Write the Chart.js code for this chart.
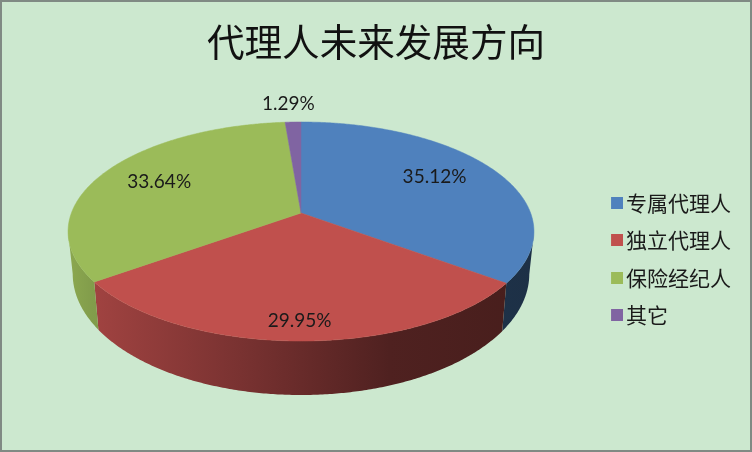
<!DOCTYPE html>
<html>
<head>
<meta charset="utf-8">
<style>html,body{margin:0;padding:0;background:#cce8cf}canvas{display:block}</style>
<script src="https://cdn.jsdelivr.net/npm/chart.js@4/dist/chart.umd.min.js"></script>
</head>
<body>
<canvas id="c" width="752" height="452"></canvas>
<script>
const categories = ['专属代理人', '独立代理人', '保险经纪人', '其它'];
const shares = [35.12, 29.95, 33.64, 1.29];
const colors = ['#4F81BD', '#C0504D', '#9BBB59', '#8064A2'];
const chartTitle = '代理人未来发展方向';

// perspective projection of the pie disc: top face and bottom rim
const K = 0.169;
const TOP = {cx: 301, cy: 213, a: 229.6, b: 106.4};
const BOT = {cx: 301, cy: 253.5, a: 225, b: 117.6};
function project(face, X, Y) {
  const w = 1 - K * Y;
  return [face.cx + face.a * X / w, face.cy + face.b * Y / w];
}
function unit(angle) { return [Math.cos(angle), Math.sin(angle)]; }

// wall brightness across the disc, from left to right
const SHADE = [[-1, .9], [-.9, .84], [-.26, .63], [0, .54], [.38, .41], [1, .37]];
function darken(hex, f) {
  const n = parseInt(hex.slice(1), 16);
  return 'rgb(' + [(n >> 16) & 255, (n >> 8) & 255, n & 255].map(v => Math.round(v * f)).join(',') + ')';
}
function wallGradient(ctx, hex) {
  const g = ctx.createLinearGradient(TOP.cx - 233, 0, TOP.cx + 233, 0);
  SHADE.forEach(([X, f]) => g.addColorStop((X + 1) / 2, darken(hex, f)));
  return g;
}

const pie3d = {
  id: 'pie3d',
  afterLayout(chart, args, opts) {
    chart.legend.left += opts.legendShift[0];
    chart.legend.right += opts.legendShift[0];
    chart.legend.top += opts.legendShift[1];
    chart.legend.bottom += opts.legendShift[1];
  },
  beforeDraw(chart) {
    const {ctx, width, height} = chart;
    ctx.save();
    ctx.fillStyle = '#cce8cf';
    ctx.fillRect(0, 0, width, height);
    ctx.strokeStyle = '#808a84';
    ctx.lineWidth = 2;
    ctx.strokeRect(1, 1, width - 2, height - 2);
    ctx.restore();
  },
  beforeDatasetDraw() { return false; },
  afterDatasetsDraw(chart, args, opts) {
    const {ctx} = chart;
    const arcs = chart.getDatasetMeta(0).data;
    const step = Math.PI / 360;
    ctx.save();
    // walls: one polygon per slice, over the part of the rim facing the viewer
    // (the rim turns away at the silhouette tangent, where sin(angle) = K)
    arcs.forEach((arc, i) => {
      const angles = [];
      for (let a = arc.startAngle; a < arc.endAngle; a += step) {
        if (Math.sin(a) >= K) angles.push(a);
      }
      if (Math.sin(arc.endAngle) >= K) angles.push(arc.endAngle);
      if (angles.length < 2) return;
      ctx.beginPath();
      angles.forEach(a => {
        const [x, y] = unit(a);
        ctx.lineTo(...project(TOP, x, y));
      });
      angles.slice().reverse().forEach(a => {
        const [x, y] = unit(a);
        ctx.lineTo(...project(BOT, x, y));
      });
      ctx.closePath();
      ctx.fillStyle = wallGradient(ctx, colors[i]);
      ctx.fill();
    });
    // top face
    arcs.forEach((arc, i) => {
      ctx.beginPath();
      ctx.moveTo(TOP.cx, TOP.cy);
      for (let a = arc.startAngle; a < arc.endAngle; a += step) {
        const [x, y] = unit(a);
        ctx.lineTo(...project(TOP, x, y));
      }
      const [x, y] = unit(arc.endAngle);
      ctx.lineTo(...project(TOP, x, y));
      ctx.closePath();
      ctx.fillStyle = colors[i];
      ctx.strokeStyle = colors[i];
      ctx.lineWidth = 0.5;
      ctx.fill();
      ctx.stroke();
    });
    // value labels
    ctx.font = '19px Lato';
    ctx.fillStyle = '#1a1a1a';
    ctx.textAlign = 'center';
    ctx.textBaseline = 'middle';
    arcs.forEach((arc, i) => {
      const [x, y] = unit((arc.startAngle + arc.endAngle) / 2);
      const r = opts.radii[i];
      const [px, py] = project(TOP, x * r, y * r);
      ctx.fillText(shares[i].toFixed(2) + '%', px + opts.nudge[i][0], py + opts.nudge[i][1]);
    });
    ctx.restore();
  }
};

// small square legend marker
function marker(color) {
  const m = document.createElement('canvas');
  m.width = 16; m.height = 12;
  const g = m.getContext('2d');
  g.fillStyle = color;
  g.fillRect(4, 0, 12, 12);
  return m;
}

new Chart(document.getElementById('c'), {
  type: 'pie',
  data: {
    labels: categories,
    datasets: [{data: shares, backgroundColor: colors, borderWidth: 0}]
  },
  options: {
    responsive: false,
    animation: false,
    devicePixelRatio: 1,
    layout: {padding: 0},
    plugins: {
      pie3d: {
        radii: [.68, .86, .72, 1.24],
        nudge: [[1, -5], [0, 1], [1, -1], [-3, 0]],
        legendShift: [-11, 33]
      },
      tooltip: {enabled: false},
      title: {
        display: true,
        text: chartTitle,
        color: '#111',
        padding: {top: 19, bottom: 10},
        font: {family: '"Noto Sans CJK SC"', size: 37.6, weight: 'normal'}
      },
      legend: {
        position: 'right',
        labels: {
          color: '#1a1a1a',
          font: {family: '"Noto Sans CJK SC"', size: 21},
          usePointStyle: true,
          pointStyleWidth: 1,
          padding: 16.4,
          generateLabels(chart) {
            return Chart.overrides.pie.plugins.legend.labels.generateLabels(chart).map((l, i) => {
              l.pointStyle = marker(colors[i]);
              return l;
            });
          }
        }
      }
    }
  },
  plugins: [pie3d]
});
</script>
</body>
</html>
